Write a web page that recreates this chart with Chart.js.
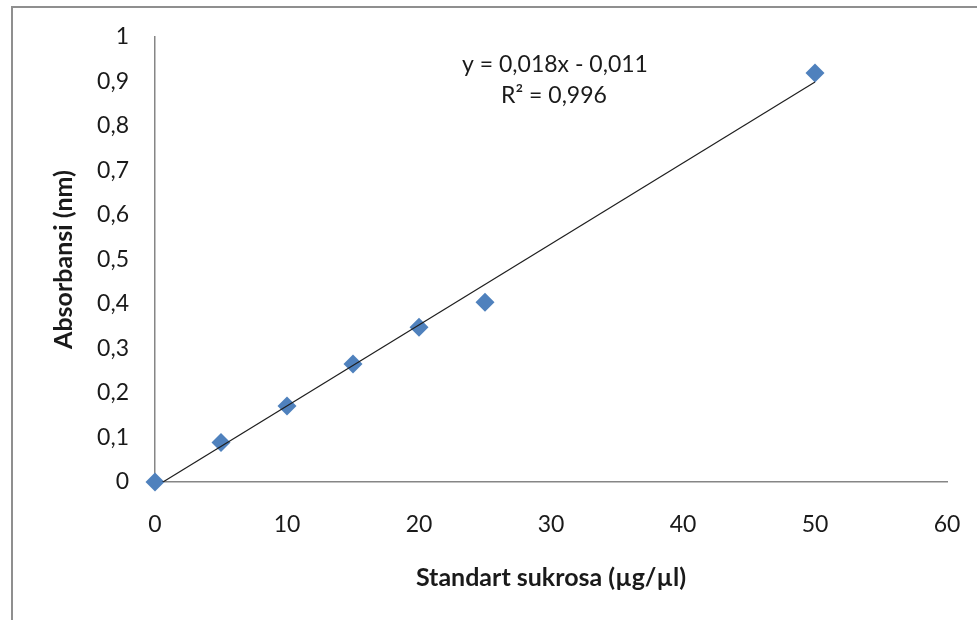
<!DOCTYPE html>
<html>
<head>
<meta charset="utf-8">
<script src="https://cdn.jsdelivr.net/npm/chart.js@4/dist/chart.umd.min.js"></script>
<style>
  html, body { margin: 0; padding: 0; background: #fff; }
  #wrap { width: 977px; height: 620px; position: relative; }
</style>
</head>
<body>
<div id="wrap"><canvas id="SukrosaChart"></canvas></div>
<script>
// Standard curve data
const concentrations = [0, 5, 10, 15, 20, 25, 50]
const absorbances = [0, 0.089, 0.171, 0.265, 0.348, 0.404, 0.919]

// trendline end points (y = 0,018x - 0,011, unrounded slope ~0,0182)
const trendX = [0, 50]
const trendY = [-0.011, 0.899]

const xTickLabels = ['0', '10', '20', '30', '40', '50', '60']
const yTickLabels = ['0', '0,1', '0,2', '0,3', '0,4', '0,5', '0,6', '0,7', '0,8', '0,9', '1']

const equationLines = ['y = 0,018x - 0,011', 'R² = 0,996']

const FONT = 'Lato, "Open Sans", sans-serif'
const TEXT = '#1a1a1a'
const AXIS = '#868686'

// grey frame around the chart like the Excel chart area
const framePlugin = {
  id: 'frame',
  beforeDraw(chart) {
    const { ctx } = chart
    ctx.save()
    ctx.strokeStyle = '#8f8f8f'
    ctx.lineWidth = 2
    ctx.beginPath()
    ctx.moveTo(12, 640)
    ctx.lineTo(12, 7)
    ctx.lineTo(1000, 7)
    ctx.stroke()
    ctx.restore()
  }
}

// regression equation label
const equationPlugin = {
  id: 'equation',
  afterDraw(chart) {
    const { ctx } = chart
    ctx.save()
    ctx.fillStyle = TEXT
    ctx.font = '23px ' + FONT
    ctx.textAlign = 'center'
    ctx.textBaseline = 'middle'
    ctx.fillText(equationLines[0], 555, 65)
    ctx.fillText(equationLines[1], 554, 96)
    ctx.restore()
  }
}

const ctx = document.getElementById('SukrosaChart')

new Chart(ctx, {
  type: 'scatter',
  data: {
    datasets: [
      {
        label: 'Linear',
        type: 'line',
        data: trendX.map((x, i) => ({ x: x, y: trendY[i] })),
        borderColor: '#1f1f1f',
        borderWidth: 1.2,
        pointRadius: 0,
        fill: false,
        order: 0
      },
      {
        label: 'Absorbansi',
        data: concentrations.map((x, i) => ({ x: x, y: absorbances[i] })),
        pointStyle: 'rectRot',
        pointRadius: 9.5,
        pointHoverRadius: 9.5,
        backgroundColor: '#4f81bd',
        borderColor: '#4f81bd',
        borderWidth: 0,
        clip: false,
        order: 1
      }
    ]
  },
  options: {
    responsive: true,
    maintainAspectRatio: false,
    animation: false,
    layout: {
      padding: { left: 0, top: 37, right: 30, bottom: 0 }
    },
    plugins: {
      legend: { display: false },
      tooltip: { enabled: false },
      title: { display: false }
    },
    scales: {
      x: {
        type: 'linear',
        min: 0,
        max: 60,
        afterFit: (scale) => {
          scale.height = 138
          scale.paddingLeft = 0
          scale.paddingRight = 0
        },
        grid: { display: false, drawTicks: false },
        border: { display: true, color: AXIS, width: 1.5 },
        ticks: {
          stepSize: 10,
          maxRotation: 0,
          padding: 29,
          color: TEXT,
          font: { family: FONT, size: 23 },
          callback: (value, index) => xTickLabels[index]
        },
        title: {
          display: true,
          text: 'Standart sukrosa (µg/µl)',
          color: TEXT,
          font: { family: FONT, size: 25, weight: 'bold' },
          padding: { top: 0, bottom: 27 }
        }
      },
      y: {
        type: 'linear',
        min: 0,
        max: 1,
        afterFit: (scale) => {
          scale.width = 155
          scale.paddingTop = 0
          scale.paddingBottom = 0
        },
        grid: { display: false, drawTicks: false },
        border: { display: true, color: AXIS, width: 1.5 },
        ticks: {
          stepSize: 0.1,
          padding: 26,
          color: TEXT,
          font: { family: FONT, size: 23 },
          callback: (value, index) => yTickLabels[index]
        },
        title: {
          display: true,
          text: 'Absorbansi (nm)',
          color: TEXT,
          font: { family: FONT, size: 25, weight: 'bold' },
          padding: { top: 49, bottom: 0 }
        }
      }
    }
  },
  plugins: [framePlugin, equationPlugin]
})
</script>
</body>
</html>
